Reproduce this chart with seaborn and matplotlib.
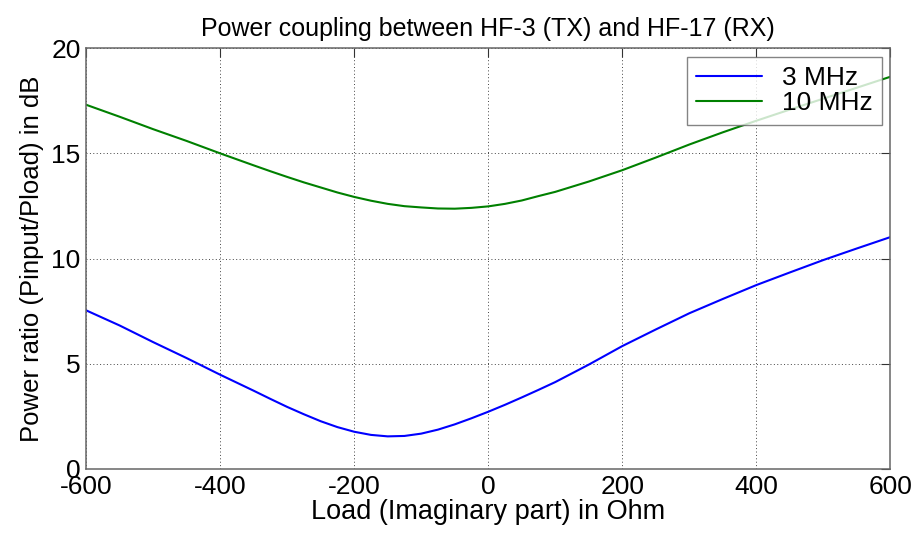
import pandas as pd
import matplotlib.pyplot as plt
import seaborn as sns

# Values
load_x = [-600, -550, -500, -450, -400, -350, -325, -300, -275, -250, -225, -200,
          -175, -150, -125, -100, -75, -50, -25, 0, 25, 50, 75, 100, 150, 200,
          250, 300, 350, 400, 450, 500, 550, 600]
ratio_3mhz = [7.54, 6.82, 6.03, 5.27, 4.48, 3.72, 3.33, 2.95, 2.60, 2.27, 1.99, 1.77,
              1.62, 1.55, 1.57, 1.68, 1.87, 2.12, 2.41, 2.72, 3.05, 3.40, 3.76, 4.13, 4.96, 5.84,
              6.63, 7.40, 8.08, 8.74, 9.34, 9.93, 10.48, 11.02]
ratio_10mhz = [17.31, 16.74, 16.15, 15.59, 15.00, 14.43, 14.15, 13.88, 13.62, 13.38, 13.14, 12.93,
               12.75, 12.60, 12.49, 12.43, 12.38, 12.37, 12.41, 12.48, 12.60, 12.76, 12.97, 13.17, 13.66, 14.20,
               14.80, 15.42, 16.00, 16.55, 17.08, 17.60, 18.12, 18.64]
series_names = ['3 MHz', '10 MHz']
line_colors = ['#0000ff', '#008000']

df = pd.concat([
    pd.DataFrame({'x': load_x, 'y': ratio_3mhz, 'f': series_names[0]}),
    pd.DataFrame({'x': load_x, 'y': ratio_10mhz, 'f': series_names[1]}),
])

sns.set_style('white')
plt.rcParams['font.family'] = ['Liberation Sans', 'DejaVu Sans']
plt.rcParams['axes.unicode_minus'] = False
plt.rcParams['text.color'] = 'black'

fig = plt.figure(figsize=(9.16, 5.35), dpi=100)
ax = fig.add_axes([0.094, 0.1234, 0.878, 0.7866])

sns.lineplot(data=df, x='x', y='y', hue='f', palette=line_colors,
             linewidth=1.5, ax=ax, legend=True)

ax.set_xlim(-600, 600)
ax.set_ylim(0, 20)
ax.set_xticks(range(-600, 601, 200))
ax.set_yticks(range(0, 21, 5))
ax.grid(True, linestyle=(0, (1, 2.5)), color='#444444', linewidth=0.7)
ax.tick_params(direction='in', length=6.5, width=0.8, labelsize=19, top=True, right=True,
               color='#333333', labelcolor='black', pad=4)
for s in ax.spines.values():
    s.set_color('#666666')
    s.set_linewidth(1.1)

ax.set_xlabel('Load (Imaginary part) in Ohm', fontsize=19.5, labelpad=0, color='black')
ax.set_ylabel('Power ratio (Pinput/Pload) in dB', fontsize=18.5, labelpad=5, color='black')
ax.set_title('Power coupling between HF-3 (TX) and HF-17 (RX)', fontsize=18, pad=9,
             color='black')

leg = ax.legend(loc='upper right', fontsize=19, frameon=True, fancybox=False,
                edgecolor='#666666', handlelength=2.5, borderaxespad=0.33,
                labelspacing=0.05, handletextpad=0.75, borderpad=0.35)
leg.get_frame().set_linewidth(1)
leg.set_title(None)

plt.savefig('out.png', dpi=100)
